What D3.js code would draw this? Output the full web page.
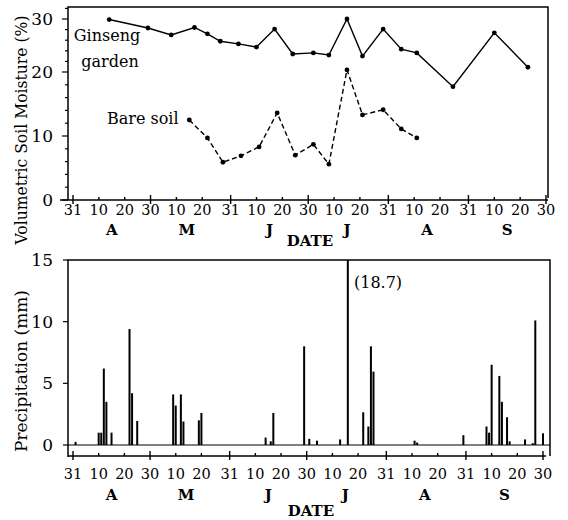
<!DOCTYPE html>
<html><head><meta charset="utf-8">
<script src="https://cdn.jsdelivr.net/npm/d3@7"></script>
<style>
body{margin:0;background:#fff}
text{font-family:"DejaVu Serif",serif;fill:#000}
</style>
</head><body>
<svg id="c" width="568" height="520"></svg>
<script>
const YEAR = 1990;
// x-axis tick dates and labels
const tickDates = ["03-31","04-10","04-20","04-30","05-10","05-20","05-31","06-10","06-20","06-30","07-10","07-20","07-31","08-10","08-20","08-31","09-10","09-20","09-30"];
const tickLabels = ["31","10","20","30","10","20","31","10","20","30","10","20","31","10","20","31","10","20","30"];
const majorTickIdx = [0,3,6,9,12,15,18];
const monthLabels = ["A","M","J","J","A","S"];
const monthMid = ["04-15","05-14","06-15","07-15","08-15","09-15"];
// soil moisture
const ginsengDates = ["04-14","04-29","05-08","05-17","05-22","05-27","06-03","06-10","06-17","06-24","07-02","07-08","07-15","07-21","07-29","08-05","08-11","08-25","09-10","09-23"];
const ginsengValues = [29.9,28.3,27.0,28.4,27.2,25.8,25.3,24.7,28.1,23.4,23.6,23.2,30.0,23.0,28.1,24.3,23.6,17.7,27.4,20.9];
const bareDates = ["05-15","05-22","05-28","06-04","06-11","06-18","06-25","07-02","07-08","07-15","07-21","07-29","08-05","08-11"];
const bareValues = [12.5,9.7,5.9,6.9,8.3,13.6,7.0,8.7,5.6,20.4,13.3,14.1,11.1,9.7];
const moistureTicks = [0,10,20,30];
// precipitation
const precipDates = ["04-01","04-10","04-11","04-12","04-13","04-15","04-22","04-23","04-25","05-09","05-10","05-12","05-13","05-19","05-20","06-14","06-16","06-17","06-29","07-01","07-04","07-13","07-16","07-22","07-24","07-25","07-26","08-11","08-12","08-30","09-08","09-09","09-10","09-13","09-14","09-16","09-17","09-23","09-26","09-27","09-30"];
const precipValues = [0.25,1.0,1.0,6.2,3.5,1.0,9.4,4.2,1.95,4.1,3.2,4.1,1.9,2.0,2.6,0.6,0.3,2.6,8.0,0.5,0.35,0.45,18.7,2.65,1.5,8.0,5.95,0.35,0.2,0.8,1.5,1.0,6.5,5.6,3.5,2.25,0.3,0.45,0.15,10.1,0.95];
const precipTicks = [0,5,10,15];

const parse = s => d3.timeParse("%Y-%m-%d")(YEAR + "-" + s);
const svg = d3.select("#c");
const FS = "14.5px";

function drawDateAxis(x, y0, x0, x1, labelY, monthY, dateY, dateX){
  const g = svg.append("g");
  g.append("line").attr("x1",x0).attr("x2",x1).attr("y1",y0).attr("y2",y0).attr("stroke","#000").attr("stroke-width",1.4);
  tickDates.forEach((s,i)=>{
    const xx = x(parse(s));
    const isMajor = majorTickIdx.includes(i);
    g.append("line").attr("x1",xx).attr("x2",xx)
      .attr("y1", isMajor ? y0-5 : y0-3).attr("y2", isMajor ? y0+4 : y0)
      .attr("stroke","#000").attr("stroke-width",1.4);
    g.append("text").attr("x",xx).attr("y",labelY).attr("text-anchor","middle")
      .attr("dominant-baseline","central").style("font-size",FS).text(tickLabels[i]);
  });
  monthMid.forEach((s,i)=>{
    g.append("text").attr("x",x(parse(s))).attr("y",monthY).attr("text-anchor","middle")
      .attr("dominant-baseline","central").style("font-size","15px").style("font-weight","bold").text(monthLabels[i]);
  });
  g.append("text").attr("x",dateX).attr("y",dateY).attr("text-anchor","middle")
    .attr("dominant-baseline","central").style("font-size","15px").style("font-weight","bold").text("DATE");
}

// ---------- top chart ----------
const xTop = d3.scaleTime().domain([parse("03-31"), parse("09-30")]).range([73, 546]);
const yTop = d3.scaleLinear().domain([0,10,20,30]).range([200,136,72,19]);
const L = 68, R = 548, T = 7;
svg.append("path").attr("d",`M${L},200 V${T} H${R} V198`).attr("fill","none").attr("stroke","#000").attr("stroke-width",1.5);
d3.range(0,33,2).forEach(v=>{
  const major = v%10===0;
  svg.append("line").attr("x1",L-(major?6:3)).attr("x2",L).attr("y1",yTop(v)).attr("y2",yTop(v)).attr("stroke","#000").attr("stroke-width",1.2);
});
moistureTicks.forEach(v=>{
  svg.append("text").attr("x",53).attr("y",yTop(v)).attr("text-anchor","end").attr("dominant-baseline","central").style("font-size","17px").text(v);
});
drawDateAxis(xTop, 200, 60, R, 210, 230, 241, 310);

const lineG = d3.line().x(d=>xTop(parse(d[0]))).y(d=>yTop(d[1]));
const gData = ginsengDates.map((d,i)=>[d,ginsengValues[i]]);
const bData = bareDates.map((d,i)=>[d,bareValues[i]]);
svg.append("path").attr("d",lineG(gData)).attr("fill","none").attr("stroke","#000").attr("stroke-width",1.4);
svg.append("path").attr("d",lineG(bData)).attr("fill","none").attr("stroke","#000").attr("stroke-width",1.4).attr("stroke-dasharray","5,3");
svg.selectAll("circle.g").data(gData).enter().append("circle").attr("cx",d=>xTop(parse(d[0]))).attr("cy",d=>yTop(d[1])).attr("r",2.4).attr("fill","#000");
svg.selectAll("circle.b").data(bData).enter().append("circle").attr("cx",d=>xTop(parse(d[0]))).attr("cy",d=>yTop(d[1])).attr("r",2.4).attr("fill","#000");
svg.append("text").attr("x",107).attr("y",35).attr("text-anchor","middle").attr("dominant-baseline","central").style("font-size","16px").text("Ginseng");
svg.append("text").attr("x",110).attr("y",61).attr("text-anchor","middle").attr("dominant-baseline","central").style("font-size","16px").text("garden");
svg.append("text").attr("x",107).attr("y",118).attr("text-anchor","start").attr("dominant-baseline","central").style("font-size","16px").text("Bare soil");
svg.append("text").attr("transform","translate(21,130) rotate(-90)").attr("text-anchor","middle").attr("dominant-baseline","central")
  .attr("textLength",229).attr("lengthAdjust","spacingAndGlyphs").style("font-size","16.5px").text("Volumetric Soil Moisture (%)");

// ---------- bottom chart ----------
const xBot = d3.scaleTime().domain([parse("03-31"), parse("09-30")]).range([73, 543]);
const yBot = d3.scaleLinear().domain([0,15]).range([445,260]);
const R2 = 550, T2 = yBot(15);
svg.append("path").attr("d",`M${L},457 V${T2} H${R2} V456`).attr("fill","none").attr("stroke","#000").attr("stroke-width",1.5);
svg.append("line").attr("x1",L).attr("x2",R2).attr("y1",yBot(0)).attr("y2",yBot(0)).attr("stroke","#000").attr("stroke-width",1.2);
precipTicks.forEach(v=>{
  svg.append("line").attr("x1",L-5).attr("x2",L).attr("y1",yBot(v)).attr("y2",yBot(v)).attr("stroke","#000").attr("stroke-width",1.2);
  svg.append("text").attr("x",53).attr("y",yBot(v)).attr("text-anchor","end").attr("dominant-baseline","central").style("font-size","17px").text(v);
});
drawDateAxis(xBot, 456, L, 546, 474, 495, 511, 311);
svg.selectAll("rect.p").data(precipDates.map((d,i)=>[d,precipValues[i]])).enter().append("rect")
  .attr("x",d=>xBot(parse(d[0]))-1).attr("width",2)
  .attr("y",d=>yBot(Math.min(d[1],15))).attr("height",d=>yBot(0)-yBot(Math.min(d[1],15))).attr("fill","#000");
svg.append("text").attr("x",354).attr("y",282).attr("dominant-baseline","central").style("font-size","16px").text("(18.7)");
svg.append("text").attr("transform","translate(21,371) rotate(-90)").attr("text-anchor","middle").attr("dominant-baseline","central")
  .attr("textLength",162).attr("lengthAdjust","spacingAndGlyphs").style("font-size","16.5px").text("Precipitation (mm)");
</script>
</body></html>
